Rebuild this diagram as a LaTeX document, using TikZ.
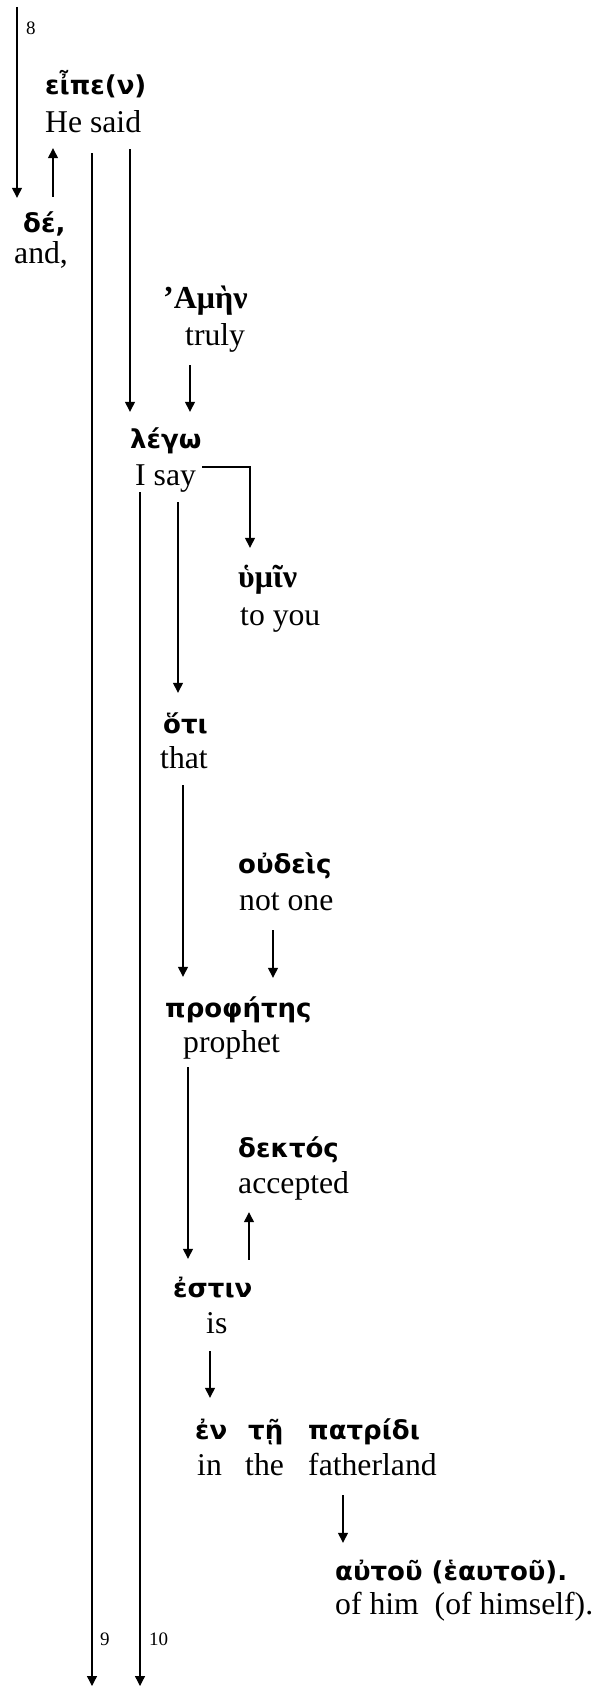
\documentclass[tikz,border=0pt]{standalone}
\usepackage{fontspec}
\setmainfont{Liberation Serif}
\newfontfamily\grkfont{DejaVu Sans}
\usetikzlibrary{arrows.meta}
\begin{document}
\begin{tikzpicture}[x=1pt,y=-1pt,
  en/.style={anchor=base west,inner sep=0pt,text height=22pt,text depth=7pt,font=\fontsize{31.7}{38}\selectfont},
  gk/.style={anchor=base west,inner sep=0pt,text height=22pt,text depth=6pt,font=\grkfont\bfseries\fontsize{26}{31}\selectfont},
  gs/.style={anchor=base west,inner sep=0pt,text height=22pt,text depth=6pt,font=\bfseries\fontsize{32}{38}\selectfont},
  num/.style={anchor=base west,inner sep=0pt,font=\fontsize{19}{22}\selectfont},
  arr/.style={line width=1.3pt,-{Triangle[length=10pt,width=10pt]}}]
\useasboundingbox (0,0) rectangle (594,1686);
% words
\node[gk] (g-eipe) at (45,95) {εἶπε(ν)};
\node[en] (e-eipe) at (45,132) {He said};
\node[gk] (g-de) at (23,232) {δέ,};
\node[en] (e-de) at (14,263) {and,};
\node[gs] (g-amen) at (163,308) {’Αμὴν};
\node[en] (e-amen) at (185,345) {truly};
\node[gk] (g-lego) at (130,448) {λέγω};
\node[en] (e-lego) at (135,485) {I say};
\node[gs] (g-humin) at (238,587) {ὑμῖν};
\node[en] (e-humin) at (240,625) {to you};
\node[gk] (g-hoti) at (163,733) {ὅτι};
\node[en] (e-hoti) at (160,768) {that};
\node[gk] (g-oudeis) at (238,873) {οὐδεὶς};
\node[en] (e-oudeis) at (239,910) {not one};
\node[gk] (g-proph) at (165,1017) {προφήτης};
\node[en] (e-proph) at (183,1052) {prophet};
\node[gk] (g-dektos) at (238,1157) {δεκτός};
\node[en] (e-dektos) at (238,1193) {accepted};
\node[gk] (g-estin) at (173,1297) {ἐστιν};
\node[en] (e-estin) at (206,1333) {is};
\node[gk] (g-en) at (195,1439) {ἐν};
\node[gk] (g-te) at (248,1439) {τῇ};
\node[gk] (g-patridi) at (308,1439) {πατρίδι};
\node[en] (e-en) at (197,1475) {in};
\node[en] (e-te) at (245,1475) {the};
\node[en] (e-patridi) at (308,1475) {fatherland};
\node[gk] (g-autou) at (335,1580) {αὐτοῦ (ἑαυτοῦ).};
\node[en] (e-autou) at (335,1614) {of him\ \ (of himself).};
% verse numbers
\node[num] (n8) at (26,35) {8};
\node[num] (n9) at (100,1645) {9};
\node[num] (n10) at (149,1645) {10};
\coordinate (top8) at (17,7);
\coordinate (bot9) at (92,1686);
\coordinate (bot10) at (140,1686);
% connectors
\draw[arr,shorten >=12pt] (top8) -- (g-de.north -| top8);
\draw[arr,shorten <=13pt,shorten >=9pt] (g-de.north -| 53,0) -- (e-eipe.south -| 53,0);
\draw[arr,shorten <=14pt] (e-eipe.south -| bot9) -- (bot9);
\draw[arr,shorten <=10pt,shorten >=14pt] (e-eipe.south -| 130,0) -- (g-lego.north -| 130,0);
\draw[arr,shorten <=13pt,shorten >=14pt] (e-amen.south -| 190,0) -- (g-lego.north -| 190,0);
\draw[arr,shorten <=6pt,shorten >=17pt] (e-lego.east |- 0,467) -| (g-humin.north -| 250,0);
\draw[arr] (e-lego.south -| bot10) -- (bot10);
\draw[arr,shorten <=10pt,shorten >=18pt] (e-lego.south -| 178,0) -- (g-hoti.north -| 178,0);
\draw[arr,shorten <=10pt,shorten >=18pt] (e-hoti.south -| 183,0) -- (g-proph.north -| 183,0);
\draw[arr,shorten <=13pt,shorten >=17pt] (e-oudeis.south -| 273,0) -- (g-proph.north -| 273,0);
\draw[arr,shorten <=8pt,shorten >=16pt] (e-proph.south -| 188,0) -- (g-estin.north -| 188,0);
\draw[arr,shorten <=15pt,shorten >=12pt] (g-estin.north -| 249,0) -- (e-dektos.south -| 249,0);
\draw[arr,shorten <=11pt,shorten >=19pt] (e-estin.south -| 210,0) -- (g-en.north -| 210,0);
\draw[arr,shorten <=13pt,shorten >=15pt] (e-patridi.south -| 343,0) -- (g-autou.north -| 343,0);
\end{tikzpicture}
\end{document}
